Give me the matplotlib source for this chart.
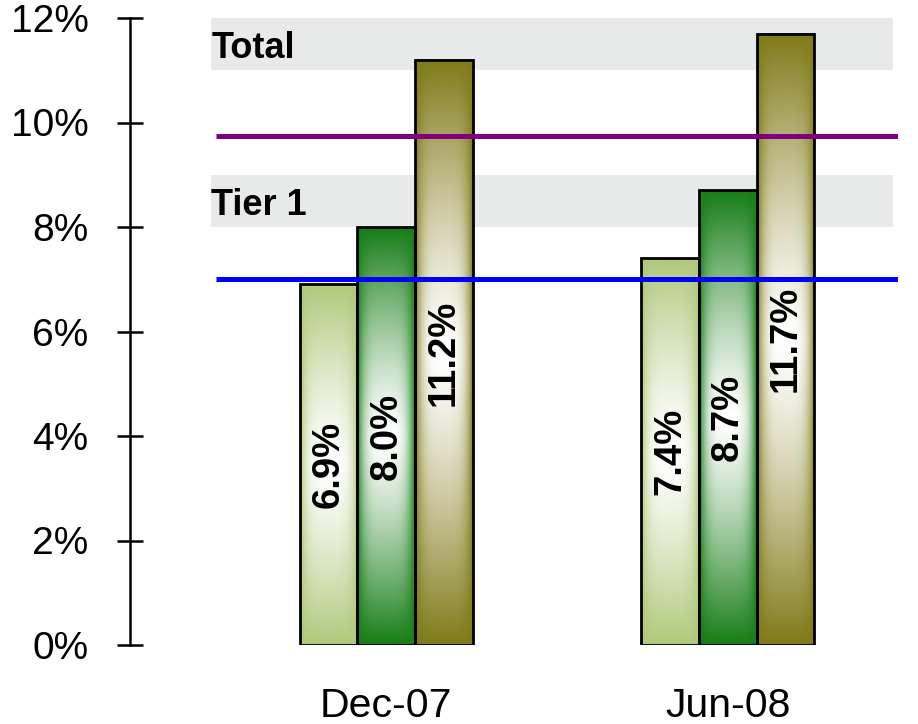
import numpy as np
import matplotlib
matplotlib.use("Agg")
import matplotlib.pyplot as plt
from matplotlib.patches import Rectangle
from matplotlib.colors import to_rgb

plt.rcParams['font.family'] = ['Liberation Sans', 'DejaVu Sans']

# Capital ratios by reporting date
categories = ["Dec-07", "Jun-08"]
series_a = [6.9, 7.4]
series_b = [8.0, 8.7]
series_c = [11.2, 11.7]
value_labels_a = ["6.9%", "7.4%"]
value_labels_b = ["8.0%", "8.7%"]
value_labels_c = ["11.2%", "11.7%"]

# Target ranges (shaded) and minimum thresholds (lines)
band_names = ["Total", "Tier 1"]
band_low = [11.0, 8.0]
band_high = [12.0, 9.0]
total_threshold = 9.75
tier1_threshold = 7.0

y_ticks = [0, 2, 4, 6, 8, 10, 12]
y_tick_labels = ["0%", "2%", "4%", "6%", "8%", "10%", "12%"]

bar_colors = ["#b0c87c", "#177d17", "#807a18"]

fig = plt.figure(figsize=(9.18, 7.24), dpi=100)
ax = fig.add_axes([130 / 918, 79 / 724, (898 - 130) / 918, 627 / 724])

xlim = (-0.751, 1.499)
ylim = (0, 12)
width = 0.169


def gradient_image(color, nx=120, ny=300):
    base = np.array(to_rgb(color))
    u = np.linspace(0, 1, nx)
    v = np.linspace(0, 1, ny)
    U, V = np.meshgrid(u, v)
    fx = np.abs(2 * U - 1) ** 4
    fy = np.abs(2 * V - 1) ** 1.3
    f = 1 - (1 - fx) * (1 - fy)
    f = np.clip(f, 0, 1)[..., None]
    img = (1 - f) * np.ones(3) + f * base
    return img


# shaded target bands
for name, lo, hi in zip(band_names, band_low, band_high):
    ax.add_patch(Rectangle((-0.513, lo), 1.484 + 0.513, hi - lo,
                           facecolor="#e7eae9", edgecolor="none", zorder=0))
    ax.text(-0.513, (lo + hi) / 2 - 0.08, name, ha="left", va="center",
            fontsize=26, fontweight="bold", zorder=1)

x = np.arange(len(categories))
groups = [(series_a, value_labels_a), (series_b, value_labels_b), (series_c, value_labels_c)]
for k, (vals, labels) in enumerate(groups):
    offset = (k - 1) * width
    for i, (val, lab) in enumerate(zip(vals, labels)):
        left = x[i] + offset - width / 2
        img = gradient_image(bar_colors[k])
        ax.imshow(img, extent=(left, left + width, 0, val), origin="lower",
                  aspect="auto", zorder=2, interpolation="bilinear")
        ax.add_patch(Rectangle((left, 0), width, val, facecolor="none",
                               edgecolor="black", linewidth=2.0, zorder=3))
        ax.text(x[i] + offset, val / 2, lab, rotation=90, ha="center", va="center",
                fontsize=27.5, fontweight="bold", zorder=4)

# threshold lines
ax.plot([-0.50, xlim[1]], [total_threshold] * 2, color="#800080", linewidth=3.6,
        zorder=5, solid_capstyle="butt")
ax.plot([-0.50, xlim[1]], [tier1_threshold] * 2, color="#0000ff", linewidth=3.6,
        zorder=5, solid_capstyle="butt")

ax.set_xlim(*xlim)
ax.set_ylim(*ylim)

for side in ["top", "right", "bottom"]:
    ax.spines[side].set_visible(False)
ax.spines["left"].set_linewidth(1.8)

ax.set_yticks(y_ticks)
ax.set_yticklabels(y_tick_labels, fontsize=28)
ax.tick_params(axis="y", direction="inout", length=18.7, width=1.8, pad=20.5)

ax.set_xticks(x)
ax.set_xticklabels(categories, fontsize=29.5)
ax.tick_params(axis="x", length=0, pad=30)
ax.patch.set_visible(False)

fig.savefig("out.png", dpi=100)
